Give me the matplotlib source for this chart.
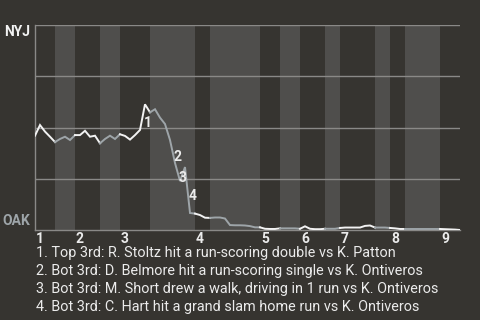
import matplotlib
matplotlib.use('Agg')
import matplotlib.pyplot as plt
import numpy as np

# plate appearances per half inning (top 1st .. top 9th)
half_lengths = [4, 4, 5, 4, 6, 9, 3, 10, 4, 4, 5, 3, 7, 3, 3, 7, 4]

# NYJ win probability after each plate appearance
win_prob = [
    0.460, 0.512, 0.480, 0.455, 0.429, 0.444, 0.455, 0.439, 0.463, 0.463,
    0.484, 0.455, 0.460, 0.423, 0.444, 0.460, 0.444, 0.467, 0.459, 0.441,
    0.463, 0.488, 0.613, 0.574, 0.589, 0.548, 0.517, 0.439, 0.327, 0.239,
    0.307, 0.083, 0.080, 0.073, 0.060, 0.059, 0.061, 0.061, 0.056, 0.024,
    0.023, 0.023, 0.022, 0.019, 0.013, 0.013, 0.006, 0.005, 0.005, 0.008,
    0.008, 0.008, 0.008, 0.006, 0.018, 0.006, 0.004, 0.004, 0.006, 0.006,
    0.006, 0.010, 0.012, 0.012, 0.012, 0.012, 0.020, 0.022, 0.012, 0.012,
    0.012, 0.010, 0.008, 0.005, 0.005, 0.005, 0.005, 0.005, 0.005, 0.005,
    0.005, 0.005, 0.004, 0.003, 0.002, 0.000,
]

away, home = 'NYJ', 'OAK'
innings = ['1', '2', '3', '4', '5', '6', '7', '8', '9']

event_idx = [22, 28, 29, 31]
event_text = [
    '1. Top 3rd: R. Stoltz hit a run-scoring double vs K. Patton',
    '2. Bot 3rd: D. Belmore hit a run-scoring single vs K. Ontiveros',
    '3. Bot 3rd: M. Short drew a walk, driving in 1 run vs K. Ontiveros',
    '4. Bot 3rd: C. Hart hit a grand slam home run vs K. Ontiveros',
]

BG = '#363430'
BAND = '#4f4e4c'
GRID = '#8a8987'
TXT = '#ebebeb'
AWAY_C = '#f2f2f2'
HOME_C = '#9ea5a9'

plt.rcParams['font.family'] = ['Roboto', 'DejaVu Sans']

fig = plt.figure(figsize=(4.8, 3.2), dpi=100, facecolor=BG)
ax = fig.add_axes([35 / 480, 1 - 230 / 320, 425 / 480, 205 / 320])
ax.set_facecolor(BG)

bounds = np.concatenate([[0], np.cumsum(half_lengths)])
wp = np.array(win_prob)
x = np.arange(len(wp))

# bottom halves get the lighter band; line colour follows the batting team
for i in range(len(half_lengths)):
    a, b = bounds[i], bounds[i + 1]
    if i % 2 == 1:
        ax.axvspan(a, b, color=BAND, lw=0, zorder=0)
    ax.plot(x[a:b + 1], wp[a:b + 1], color=AWAY_C if i % 2 == 0 else HOME_C,
            lw=1.4, zorder=3, solid_joinstyle='miter')

for yv in [0.25, 0.5, 0.75, 1.0]:
    ax.axhline(yv, color=GRID, lw=1, zorder=1)

ax.set_xlim(0, bounds[-1])
ax.set_ylim(0, 1)
ax.set_xticks([])
ax.set_yticks([])
for s in ['top', 'right']:
    ax.spines[s].set_visible(False)
for s in ['left', 'bottom']:
    ax.spines[s].set_color(GRID)
    ax.spines[s].set_linewidth(1)

# inning numbers at the start of each top half
xt = ax.get_xaxis_transform()
for n, label in enumerate(innings):
    ax.text(bounds[2 * n] + 0.2, -0.01, label, transform=xt, ha='left', va='top',
            fontsize=10, fontweight='bold', color=TXT)

ax.text(-0.012, 1.0, away, transform=ax.transAxes, ha='right', va='top',
        fontsize=10, fontweight='bold', color=AWAY_C)
ax.text(-0.012, 0.025, home, transform=ax.transAxes, ha='right', va='baseline',
        fontsize=10, fontweight='bold', color=HOME_C)

for n, k in enumerate(event_idx):
    mx = k - 0.5
    my = (wp[k - 1] + wp[k]) / 2
    ax.annotate(str(n + 1), xy=(mx, my), xytext=(3.6, -4.3),
                textcoords='offset points', ha='center', va='center',
                fontsize=10, fontweight='bold', color=TXT, zorder=4)

for n, line in enumerate(event_text):
    fig.text(36 / 480, 1 - (253.3 + 17.8 * n) / 320, line, ha='left', va='center',
             fontsize=10.35, color=TXT)

fig.savefig('out.png', dpi=100, facecolor=BG)
